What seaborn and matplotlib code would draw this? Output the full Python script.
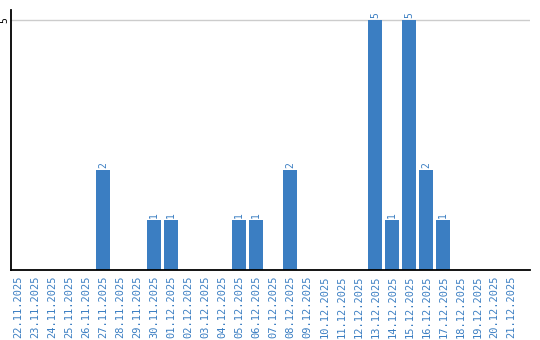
import matplotlib
matplotlib.use("Agg")
import matplotlib.pyplot as plt
import seaborn as sns
import pandas as pd

dates = ["22.11.2025", "23.11.2025", "24.11.2025", "25.11.2025", "26.11.2025",
         "27.11.2025", "28.11.2025", "29.11.2025", "30.11.2025", "01.12.2025",
         "02.12.2025", "03.12.2025", "04.12.2025", "05.12.2025", "06.12.2025",
         "07.12.2025", "08.12.2025", "09.12.2025", "10.12.2025", "11.12.2025",
         "12.12.2025", "13.12.2025", "14.12.2025", "15.12.2025", "16.12.2025",
         "17.12.2025", "18.12.2025", "19.12.2025", "20.12.2025", "21.12.2025"]
values = [0, 0, 0, 0, 0,
          2, 0, 0, 1, 1,
          0, 0, 0, 1, 1,
          0, 2, 0, 0, 0,
          0, 5, 1, 5, 2,
          1, 0, 0, 0, 0]

df = pd.DataFrame({"date": dates, "value": values})

sns.set_style("white")
fig = plt.figure(figsize=(5.4, 3.4), dpi=100)
ax = fig.add_axes([11/540, 1 - 270/340, (530 - 11)/540, (270 - 10)/340])

blue = "#3b7ec2"
sns.barplot(data=df, x="date", y="value", color=blue, width=0.82,
            saturation=1, ax=ax, zorder=3, linewidth=0)

for i, v in enumerate(values):
    if v > 0:
        ax.text(i, v + 0.03, str(v), rotation=90, ha="center", va="bottom",
                color=blue, fontsize=7, family="DejaVu Sans Mono")

ax.set_xlim(-0.42, 30.1)
ax.set_ylim(0, 5.2)
ax.set_yticks([5])
ax.set_yticklabels(["5"], rotation=90, va="center", fontsize=7,
                   family="DejaVu Sans Mono", color="black")
ax.yaxis.grid(True, color="#cccccc", linewidth=1, zorder=0)
ax.set_xticks(range(len(dates)))
ax.set_xticklabels(dates, rotation=90, fontsize=7.5, color=blue,
                   family="DejaVu Sans Mono")
ax.tick_params(axis="x", length=0, pad=4)
ax.tick_params(axis="y", length=0, pad=1)
ax.set_xlabel("")
ax.set_ylabel("")
for s in ["top", "right"]:
    ax.spines[s].set_visible(False)
for s in ["left", "bottom"]:
    ax.spines[s].set_color("black")
    ax.spines[s].set_linewidth(1.3)
    ax.spines[s].set_zorder(4)

fig.savefig("out.png", dpi=100)
